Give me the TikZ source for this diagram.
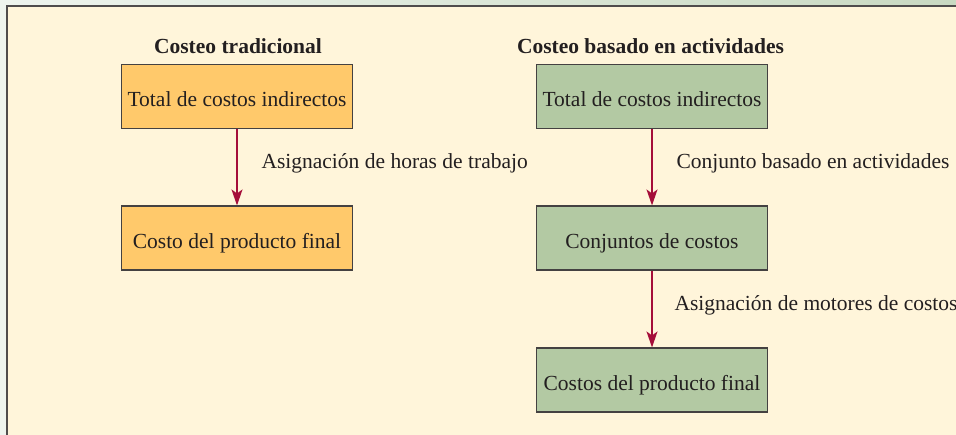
\documentclass[tikz,border=0pt]{standalone}
\usepackage{fontspec}
\setmainfont{Liberation Serif}
\usetikzlibrary{arrows.meta}
\definecolor{paper}{HTML}{FFF5DA}
\definecolor{outside}{HTML}{EEF4EE}
\definecolor{topband}{HTML}{C9D9C2}
\definecolor{orangebox}{HTML}{FFC96B}
\definecolor{greenbox}{HTML}{B3C9A3}
\definecolor{arrowred}{HTML}{A50E3A}
\definecolor{ink}{HTML}{231F20}
\tikzset{
  costbox/.style={draw=ink!85, line width=1.1pt, minimum width=231pt, minimum height=64pt, inner sep=0pt, text height=21pt, text depth=0pt, font=\fontsize{21.5}{24}\selectfont, text=ink},
  tradbox/.style={costbox, fill=orangebox},
  abcbox/.style={costbox, fill=greenbox},
  flow/.style={arrowred, line width=1.4pt, -{Stealth[length=16pt,width=11pt,inset=4pt]}},
  steplabel/.style={anchor=west, font=\fontsize{21.5}{24}\selectfont, text=ink},
  heading/.style={font=\fontsize{21.5}{24}\selectfont\bfseries, text=ink}
}
\begin{document}
\begin{tikzpicture}[x=1pt,y=-1pt]
% background and frame
\useasboundingbox (0,0) rectangle (956,435);
\fill[outside] (0,0) rectangle (956,435);
\shade[left color=outside, right color=topband] (0,0) rectangle (956,7);
\fill[paper] (7,6) rectangle (960,440);
\draw[ink!80, line width=2pt] (7,440) -- (7,6) -- (960,6);

% traditional costing
\node[heading] (tradtitle) at (238,46) {Costeo tradicional};
\node[tradbox] (tradtotal) at (237,96.5) {Total de costos indirectos};
\node[tradbox] (tradfinal) at (237,238) {Costo del producto final};
\draw[flow] (tradtotal) -- (tradfinal);
\node[steplabel] (tradlabel) at (258,163) {Asignación de horas de trabajo};

% activity based costing
\node[heading] (abctitle) at (650.5,46) {Costeo basado en actividades};
\node[abcbox] (abctotal) at (652,96.5) {Total de costos indirectos};
\node[abcbox] (abcpools) at (652,238) {Conjuntos de costos};
\node[abcbox] (abcfinal) at (652,380) {Costos del producto final};
\draw[flow] (abctotal) -- (abcpools);
\draw[flow] (abcpools) -- (abcfinal);
\node[steplabel] (abclabela) at (673,163) {Conjunto basado en actividades};
\node[steplabel] (abclabelb) at (671,305) {Asignación de motores de costos};
\end{tikzpicture}
\end{document}
